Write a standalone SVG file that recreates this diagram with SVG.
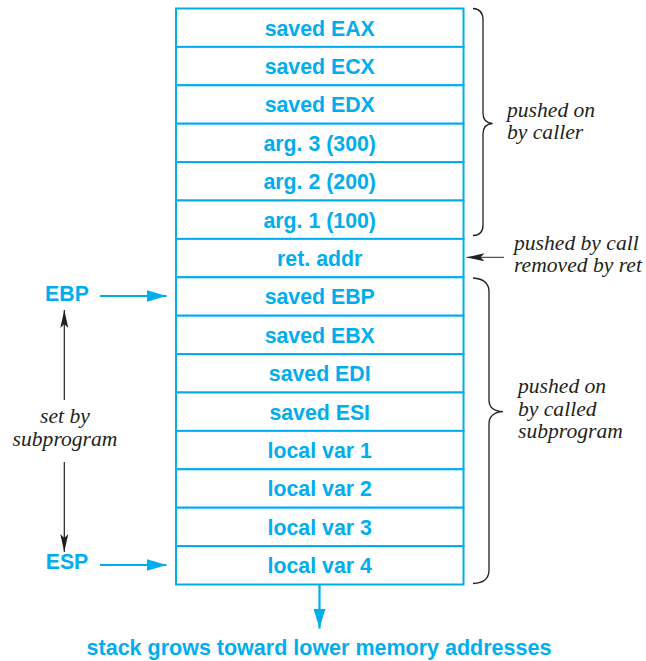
<svg xmlns="http://www.w3.org/2000/svg" width="646" height="661" viewBox="0 0 646 661">
<style>
.cell{fill:#fff;stroke:#00AEEF;stroke-width:2}
.lbl{font-family:"Liberation Sans",Arial,sans-serif;font-weight:bold;font-size:21.3px;fill:#00AEEF;text-anchor:middle}
.note{font-family:"Liberation Serif","Times New Roman",serif;font-style:italic;font-size:21.6px;fill:#231F20}
.brace{fill:none;stroke:#231F20;stroke-width:1.3}
.cy{stroke:#00AEEF;stroke-width:2.2;fill:none}
.bk{stroke:#231F20;stroke-width:1.2;fill:none}
</style>
<defs>
<marker id="ac" viewBox="0 0 20 12" refX="20" refY="6" markerWidth="20" markerHeight="12" markerUnits="userSpaceOnUse" orient="auto"><path d="M0,0 L20,6 L0,12 Z" fill="#00AEEF"/></marker>
<marker id="ak" viewBox="0 0 18 8" refX="18" refY="4" markerWidth="18" markerHeight="8" markerUnits="userSpaceOnUse" orient="auto"><path d="M0,0 L18,4 L0,8 L4,4 Z" fill="#231F20"/></marker>
</defs>
<g id="stack">
<g id="n1"><rect class="cell" x="176" y="8.5" width="287.5" height="38.4"/><text class="lbl" x="319.7" y="35.5">saved EAX</text></g>
<g id="n2"><rect class="cell" x="176" y="46.9" width="287.5" height="38.4"/><text class="lbl" x="319.7" y="73.9">saved ECX</text></g>
<g id="n3"><rect class="cell" x="176" y="85.3" width="287.5" height="38.4"/><text class="lbl" x="319.7" y="112.3">saved EDX</text></g>
<g id="n4"><rect class="cell" x="176" y="123.7" width="287.5" height="38.4"/><text class="lbl" x="319.7" y="150.7">arg. 3 (300)</text></g>
<g id="n5"><rect class="cell" x="176" y="162.1" width="287.5" height="38.4"/><text class="lbl" x="319.7" y="189.1">arg. 2 (200)</text></g>
<g id="n6"><rect class="cell" x="176" y="200.5" width="287.5" height="38.4"/><text class="lbl" x="319.7" y="227.5">arg. 1 (100)</text></g>
<g id="n7"><rect class="cell" x="176" y="238.9" width="287.5" height="38.4"/><text class="lbl" x="319.7" y="265.9">ret. addr</text></g>
<g id="n8"><rect class="cell" x="176" y="277.3" width="287.5" height="38.4"/><text class="lbl" x="319.7" y="304.3">saved EBP</text></g>
<g id="n9"><rect class="cell" x="176" y="315.7" width="287.5" height="38.4"/><text class="lbl" x="319.7" y="342.7">saved EBX</text></g>
<g id="n10"><rect class="cell" x="176" y="354.1" width="287.5" height="38.4"/><text class="lbl" x="319.7" y="381.1">saved EDI</text></g>
<g id="n11"><rect class="cell" x="176" y="392.5" width="287.5" height="38.4"/><text class="lbl" x="319.7" y="419.5">saved ESI</text></g>
<g id="n12"><rect class="cell" x="176" y="430.9" width="287.5" height="38.4"/><text class="lbl" x="319.7" y="457.9">local var 1</text></g>
<g id="n13"><rect class="cell" x="176" y="469.3" width="287.5" height="38.4"/><text class="lbl" x="319.7" y="496.3">local var 2</text></g>
<g id="n14"><rect class="cell" x="176" y="507.7" width="287.5" height="38.4"/><text class="lbl" x="319.7" y="534.7">local var 3</text></g>
<g id="n15"><rect class="cell" x="176" y="546.1" width="287.5" height="38.4"/><text class="lbl" x="319.7" y="573.1">local var 4</text></g>
</g>
<g id="ebp"><text class="lbl" x="67" y="301">EBP</text></g>
<g id="esp"><text class="lbl" x="67" y="569">ESP</text></g>
<g id="setby"><text class="note" x="65" y="423" text-anchor="middle">set by</text><text class="note" x="65" y="446" text-anchor="middle">subprogram</text></g>
<g id="caller"><text class="note" x="507" y="117">pushed on</text><text class="note" x="507" y="139">by caller</text></g>
<g id="call"><text class="note" x="514" y="250">pushed by call</text><text class="note" x="514" y="272">removed by ret</text></g>
<g id="called"><text class="note" x="518" y="393">pushed on</text><text class="note" x="518" y="415.5">by called</text><text class="note" x="518" y="438">subprogram</text></g>
<g id="grows"><text class="lbl" x="319" y="655" style="font-size:21.5px">stack grows toward lower memory addresses</text></g>
<g id="connectors">
<path class="brace" d="M473,8.5 Q483,9 483,20 L483,113 Q483,123 492.5,123.5 Q483,124 483,134 L483,225 Q483,235.5 473,235.5"/>
<path class="brace" d="M473,278 Q489,279 489,292 L489,400 Q489,411 503,411.7 Q489,412.5 489,424 L489,570 Q489,583 473,583.5"/>
<path class="bk" d="M504,257.3 L466.5,257.3" marker-end="url(#ak)" style="stroke:#555"/>
<path class="cy" d="M100,296 L166.5,296" marker-end="url(#ac)"/>
<path class="cy" d="M100,565 L166.5,565" marker-end="url(#ac)"/>
<path class="bk" d="M64.3,400 L64.3,310" marker-end="url(#ak)"/>
<path class="bk" d="M64.3,462 L64.3,552" marker-end="url(#ak)"/>
<path class="cy" d="M319.5,585 L319.5,628.5" marker-end="url(#ac)"/>
</g>
</svg>
